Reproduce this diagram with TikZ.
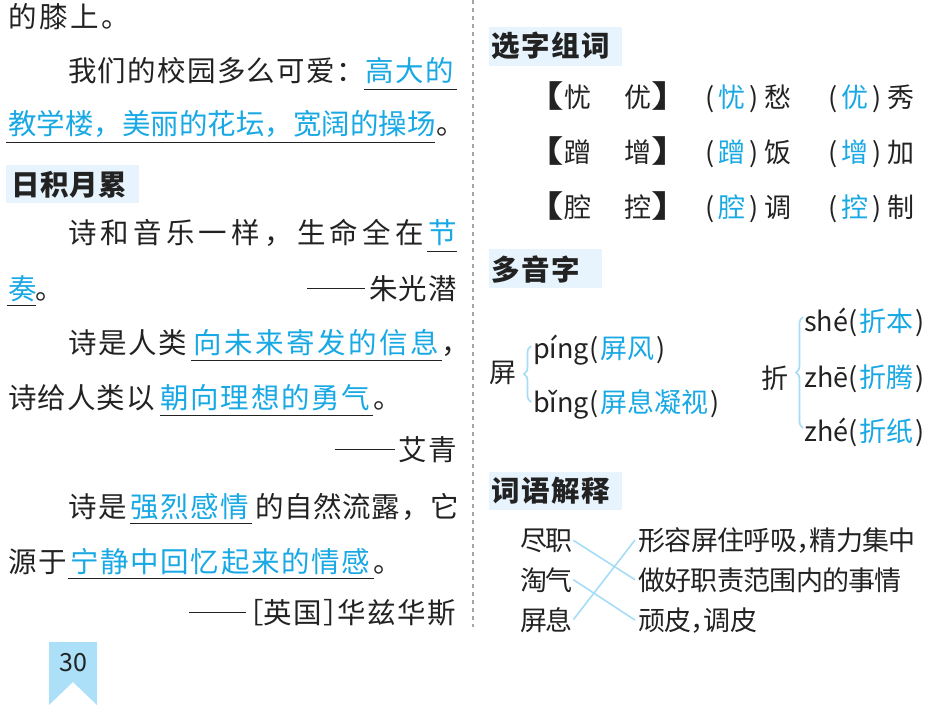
\documentclass[tikz,border=0pt]{standalone}
\usepackage{fontspec}
\usepackage{tikz}
\usetikzlibrary{decorations.pathreplacing}
\newfontfamily\cjk{Noto Sans CJK SC}
\definecolor{answerblue}{HTML}{18A8E4}
\definecolor{headfill}{HTML}{E8F4FD}
\definecolor{bracecol}{HTML}{A6DDF6}
\definecolor{tagfill}{HTML}{ACE0F8}
\definecolor{inkgray}{HTML}{222222}
% put every character of #2 in a box #1 wide
\newcommand\pitched[2]{\def\pitchw{#1}\pitchstep#2\relax}
\newcommand\pitchstep[1]{\ifx\relax#1\else\makebox[\pitchw][l]{#1}\expandafter\pitchstep\fi}
% long dash before an author's name
\newcommand\authordash[1]{\rule[0.37em]{#1}{0.9pt}\hspace{4pt}}
% heavy lenticular brackets
\newcommand\heavyopen{\makebox[26pt][r]{\bfseries\scalebox{1.5}[1.12]{【}}}
\newcommand\heavyclose{\makebox[26pt][l]{\bfseries\scalebox{1.5}[1.12]{】}}}

\begin{document}
\begin{tikzpicture}[x=1pt, y=-1pt,
  txt/.style={inner sep=0pt, anchor=base west, text=inkgray, font=\cjk\fontsize{28.5}{32}\selectfont},
  ans/.style={txt, text=answerblue},
  rtxt/.style={inner sep=0pt, anchor=base west, text=inkgray, font=\cjk\fontsize{27}{30}\selectfont},
  headtxt/.style={inner sep=0pt, anchor=base west, text=inkgray, font=\cjk\bfseries\fontsize{28.5}{32}\selectfont},
  uline/.style={draw=inkgray, line width=0.9pt},
  link/.style={draw=bracecol, line width=1.6pt},
  bracket/.style={decorate, decoration={brace, amplitude=7pt}, draw=bracecol, line width=1.7pt}]
\useasboundingbox (0,0) rectangle (936,708);
% Left column: end of the previous paragraph
\node[txt] (knee) at (8,28) {\pitched{31pt}{的膝上。}};
\node[txt] (campus) at (68,82) {\pitched{29.8pt}{我们的校园多么可爱：}};
\node[ans] (building) at (365,82) {\pitched{30pt}{高大的}};
\draw[uline] (364,89) -- (457,89);
\node[ans] (garden) at (8,135) {\pitched{28.5pt}{教学楼，美丽的花坛，宽阔的操场}};
\node[txt] (stopC) at (436,135) {。};
\draw[uline] (6,142) -- (435,142);
% Heading on light blue
\fill[headfill] (6,165) rectangle (139,203);
\node[headtxt] (rjyl) at (11,196) {\pitched{29pt}{日积月累}};
% First quotation
\node[txt] (poemA) at (68,244) {\pitched{32.7pt}{诗和音乐一样，生命全在}};
\node[ans] (jie) at (428,244) {节};
\draw[uline] (427,251) -- (457,251);
\node[ans] (zou) at (8,299) {奏};
\node[txt] (stopE) at (35,299) {。};
\draw[uline] (7,305) -- (36,305);
\node[txt, anchor=base east] (zhu) at (458,299) {\authordash{58pt}\pitched{29.5pt}{朱光潜}};
% Second quotation
\node[txt] (poemB) at (68,353) {\pitched{30pt}{诗是人类}};
\node[ans] (message) at (193,353) {\pitched{31pt}{向未来寄发的信息}};
\node[txt] (commaF) at (441,353) {，};
\draw[uline] (191,360) -- (442,360);
\node[txt] (poemC) at (8,408) {\pitched{29.5pt}{诗给人类以}};
\node[ans] (courage) at (160,408) {\pitched{30.3pt}{朝向理想的勇气}};
\node[txt] (stopG) at (373,408) {。};
\draw[uline] (160,415) -- (373,415);
\node[txt, anchor=base east] (aiqing) at (458,460) {\authordash{60pt}\pitched{29.5pt}{艾青}};
% Third quotation
\node[txt] (poemD) at (68,517) {\pitched{30pt}{诗是}};
\node[ans] (feeling) at (130,517) {\pitched{30pt}{强烈感情}};
\node[txt] (flow) at (255,517) {\pitched{29.2pt}{的自然流露，它}};
\draw[uline] (130,523) -- (252,523);
\node[txt] (poemE) at (8,572) {\pitched{30pt}{源于}};
\node[ans] (calm) at (70,572) {\pitched{30.2pt}{宁静中回忆起来的情感}};
\node[txt] (stopJ) at (373,572) {。};
\draw[uline] (68,578) -- (374,578);
\node[txt, anchor=base east] (wordsworth) at (458,623) {\authordash{57pt}\makebox[14pt][r]{［}\pitched{30pt}{英国}\makebox[14pt][l]{］}\pitched{30pt}{华兹华斯}};
% Page number tag
\fill[tagfill] (49,642) -- (97,642) -- (97,705) -- (73,682) -- (49,705) -- cycle;
\node[inner sep=0pt, text=inkgray, font=\cjk\fontsize{25}{28}\selectfont] (page) at (73,663) {30};
% Dashed line between the columns
\draw[gray!70, line width=1.2pt, dash pattern=on 4pt off 4pt] (473,0) -- (473,627);
% Right column: choose the character
\fill[headfill] (489,27) rectangle (622,66);
\node[headtxt] (xzzc) at (491,57) {\pitched{30pt}{选字组词}};
\node[rtxt] (youA) at (538,108) {\heavyopen 忧};
\node[rtxt] (youB) at (624,108) {优\heavyclose};
\node[rtxt] (youC) at (705,108) {(\hspace{4pt}\textcolor{answerblue}{忧}\hspace{4pt})\hspace{6pt}愁};
\node[rtxt] (youD) at (828,108) {(\hspace{4pt}\textcolor{answerblue}{优}\hspace{4pt})\hspace{6pt}秀};
\node[rtxt] (cengA) at (538,163) {\heavyopen 蹭};
\node[rtxt] (cengB) at (624,163) {增\heavyclose};
\node[rtxt] (cengC) at (705,163) {(\hspace{4pt}\textcolor{answerblue}{蹭}\hspace{4pt})\hspace{6pt}饭};
\node[rtxt] (cengD) at (828,163) {(\hspace{4pt}\textcolor{answerblue}{增}\hspace{4pt})\hspace{6pt}加};
\node[rtxt] (qiangA) at (538,218) {\heavyopen 腔};
\node[rtxt] (qiangB) at (624,218) {控\heavyclose};
\node[rtxt] (qiangC) at (705,218) {(\hspace{4pt}\textcolor{answerblue}{腔}\hspace{4pt})\hspace{6pt}调};
\node[rtxt] (qiangD) at (828,218) {(\hspace{4pt}\textcolor{answerblue}{控}\hspace{4pt})\hspace{6pt}制};
% Characters with two readings
\fill[headfill] (489,249) rectangle (602,288);
\node[headtxt] (dyz) at (491,280) {\pitched{30pt}{多音字}};
\node[rtxt] (ping) at (489,382) {屏};
\draw[bracket] (531,402) -- (531,346);
\node[rtxt] (pingA) at (533,358) {píng(\hspace{2pt}\textcolor{answerblue}{屏风}\hspace{2pt})};
\node[rtxt] (pingB) at (533,412) {bǐng(\hspace{2pt}\textcolor{answerblue}{屏息凝视}\hspace{2pt})};
\node[rtxt] (zhe) at (761,388) {折};
\draw[bracket] (803,428) -- (803,317);
\node[rtxt] (zheA) at (804,331) {shé(\hspace{2pt}\textcolor{answerblue}{折本}\hspace{2pt})};
\node[rtxt] (zheB) at (804,387) {zhē(\hspace{2pt}\textcolor{answerblue}{折腾}\hspace{2pt})};
\node[rtxt] (zheC) at (804,441) {zhé(\hspace{2pt}\textcolor{answerblue}{折纸}\hspace{2pt})};
% Word meanings, matched by lines
\fill[headfill] (489,472) rectangle (622,510);
\node[headtxt] (cyjs) at (491,501) {\pitched{30pt}{词语解释}};
\node[rtxt] (jinzhi) at (520,550) {\pitched{25.5pt}{尽职}};
\node[rtxt] (taoqi) at (520,590) {\pitched{25.5pt}{淘气}};
\node[rtxt] (pingxi) at (520,630) {\pitched{25.5pt}{屏息}};
\node[rtxt] (meanA) at (638,550) {\pitched{26.4pt}{形容屏住呼吸}\makebox[13pt][l]{，}\pitched{26.4pt}{精力集中}};
\node[rtxt] (meanB) at (638,590) {\pitched{26.3pt}{做好职责范围内的事情}};
\node[rtxt] (meanC) at (638,630) {\pitched{26.3pt}{顽皮}\makebox[13pt][l]{，}\pitched{26.3pt}{调皮}};
\draw[link] ([xshift=2pt]jinzhi.east) -- ([xshift=-3pt]meanB.west);
\draw[link] ([xshift=2pt]taoqi.east) -- ([xshift=-3pt]meanC.west);
\draw[link] ([xshift=2pt]pingxi.east) -- ([xshift=-3pt]meanA.west);
\end{tikzpicture}
\end{document}
